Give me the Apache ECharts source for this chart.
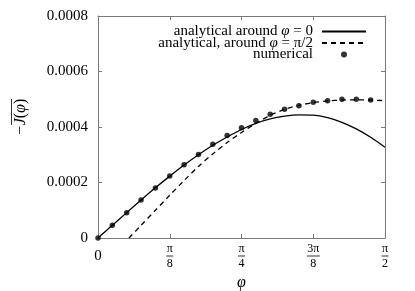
<!DOCTYPE html>
<html><head><meta charset="utf-8">
<script src="https://cdn.jsdelivr.net/npm/echarts@6/dist/echarts.min.js"></script>
<style>html,body{margin:0;padding:0;background:#fff}#c{width:415px;height:291px}</style>
</head><body><div id="c"></div>
<script>
// phi values are given in units of pi/40
const PI = Math.PI;
const phiNumerical = [0,1,2,3,4,5,6,7,8,9,10,11,12,13,14,15,16,17,18,19];
const numericalValues = [0,0.0000457,0.0000914,0.000137,0.0001805,0.000223,0.000264,0.000301,0.000338,0.000369,0.000397,0.000423,0.000446,0.000464,0.000477,0.000489,0.000495,0.000500,0.000500,0.000497];
const phiAround0 = [0,1,2,3,4,5,6,7,8,9,10,11,12,13,14,15,16,17,18,19,20];
const around0Values = [0,0.0000457,0.0000914,0.000137,0.000181,0.000223,0.000263,0.000300,0.000334,0.000364,0.000391,0.000413,0.000429,0.000439,0.000444,0.000443,0.000434,0.000417,0.000393,0.000363,0.000327];
const phiAroundHalfPi = [2.16,3,4,5,6,7,8,9,10,11,12,13,14,15,16,17,18,19,20];
const aroundHalfPiValues = [0,0.0000456,0.0000999,0.000154,0.000207,0.000258,0.000303,0.000344,0.000380,0.000413,0.000442,0.000463,0.000478,0.000488,0.000494,0.000497,0.000498,0.000497,0.000495];
const xTickNum = ['0','π','π','3π','π'];
const xTickDen = ['','8','4','8','2'];
const yTickLabels = ['0','0.0002','0.0004','0.0006','0.0008'];
const seriesNames = ['analytical around φ = 0','analytical, around φ = π/2','numerical'];
const legendRich = ['{t|analytical around }{i|φ}{t| = 0}','{t|analytical, around }{i|φ}{t| = π/2}','{t|numerical}'];

const FONT = '"Liberation Serif", "DejaVu Serif", serif';
const unit = PI/40;
const pairs = (ph, vals) => ph.map((p,i)=>[p*unit, vals[i]]);

const chart = echarts.init(document.getElementById('c'), null, {renderer:'canvas'});
const axisGray = '#7a7a7a';
const baseX = {
  type:'value', min:0, max:PI/2, interval:PI/8,
  axisLine:{show:true, onZero:false, lineStyle:{color:axisGray, width:1}},
  axisTick:{show:true, inside:true, length:4, lineStyle:{color:axisGray}},
  splitLine:{show:false}
};
const baseY = {
  type:'value', min:0, max:0.0008, interval:0.0002,
  axisLine:{show:true, onZero:false, lineStyle:{color:axisGray, width:1}},
  axisTick:{show:true, inside:true, length:4, lineStyle:{color:axisGray}},
  splitLine:{show:false}
};
chart.setOption({
  animation:false,
  backgroundColor:'#fff',
  textStyle:{fontFamily:FONT},
  grid:{left:98, right:30, top:16, bottom:53, containLabel:false, outerBoundsMode:'none'},
  xAxis:[
    Object.assign({}, baseX, {
      position:'bottom',
      axisLabel:{
        margin:5, fontFamily:FONT,
        formatter:(v)=>{
          const k = Math.round(v/(PI/8));
          if (k===0) return '{z|'+xTickNum[0]+'}';
          const bar = xTickNum[k].length>1 ? 'bw' : 'b';
          return '{n|'+xTickNum[k]+'}\n{'+bar+'| }\n{d|'+xTickDen[k]+'}';
        },
        rich:{
          z:{fontFamily:FONT, fontSize:15, color:'#000', lineHeight:26},
          n:{fontFamily:FONT, fontSize:12, color:'#000', lineHeight:11, align:'center'},
          d:{fontFamily:FONT, fontSize:12, color:'#000', lineHeight:12, align:'center'},
          b:{width:7, height:0.8, lineHeight:4, backgroundColor:'#000'},
          bw:{width:13, height:0.8, lineHeight:4, backgroundColor:'#000'}
        }
      },
      name:'φ', nameLocation:'middle', nameGap:33,
      nameTextStyle:{fontFamily:FONT, fontStyle:'italic', fontSize:16, color:'#000'}
    }),
    Object.assign({}, baseX, {position:'top', axisLabel:{show:false}})
  ],
  yAxis:[
    Object.assign({}, baseY, {
      position:'left',
      axisLabel:{
        margin:10, fontFamily:FONT, fontSize:15, color:'#000',
        formatter:(v)=>yTickLabels[Math.round(v/0.0002)]
      },
      name:'{s| }{o| }\n{m|−}{j|J}{p|(}{j|φ}{p|)}',
      nameLocation:'middle', nameRotate:90, nameGap:69,
      nameTextStyle:{
        color:'#000', fontFamily:FONT, padding:[0,0,0,20],
        rich:{
          s:{width:10, lineHeight:3},
          o:{width:26, height:0.8, lineHeight:3, backgroundColor:'#000'},
          m:{fontFamily:FONT, fontSize:16, color:'#000', width:10, lineHeight:16},
          j:{fontFamily:FONT, fontSize:16, fontStyle:'italic', color:'#000', lineHeight:16},
          p:{fontFamily:FONT, fontSize:16, color:'#000', lineHeight:16}
        }
      }
    }),
    Object.assign({}, baseY, {position:'right', axisLabel:{show:false}})
  ],
  legend:{
    orient:'vertical', right:43, top:19, align:'right',
    itemWidth:44, itemHeight:12, itemGap:-3.5,
    data:[
      {name:seriesNames[0], itemStyle:{opacity:0}},
      {name:seriesNames[1], itemStyle:{opacity:0}},
      {name:seriesNames[2], icon:'path://M0,0 M12,12 M3,6 A3,3 0 1,0 9,6 A3,3 0 1,0 3,6 Z'}
    ],
    formatter:(name)=>legendRich[seriesNames.indexOf(name)],
    textStyle:{
      fontFamily:FONT, fontSize:15, color:'#000', lineHeight:12, padding:[0,4,0,0],
      rich:{
        t:{fontFamily:FONT, fontSize:15, color:'#000', lineHeight:12},
        i:{fontFamily:FONT, fontSize:15, fontStyle:'italic', color:'#000', lineHeight:12}
      }
    }
  },
  series:[
    {name:seriesNames[0], type:'line', data:pairs(phiAround0, around0Values), smooth:0.3,
     symbol:'none', color:'#000', lineStyle:{color:'#000', width:1.3}, z:2},
    {name:seriesNames[1], type:'line', data:pairs(phiAroundHalfPi, aroundHalfPiValues), smooth:0.3,
     symbol:'none', color:'#000', lineStyle:{color:'#000', width:1.3, type:[5,4]}, z:2},
    {name:seriesNames[2], type:'scatter', data:pairs(phiNumerical, numericalValues),
     symbol:'circle', symbolSize:5.5, color:'#000', itemStyle:{color:'#000'}, z:3}
  ]
});
</script></body></html>
